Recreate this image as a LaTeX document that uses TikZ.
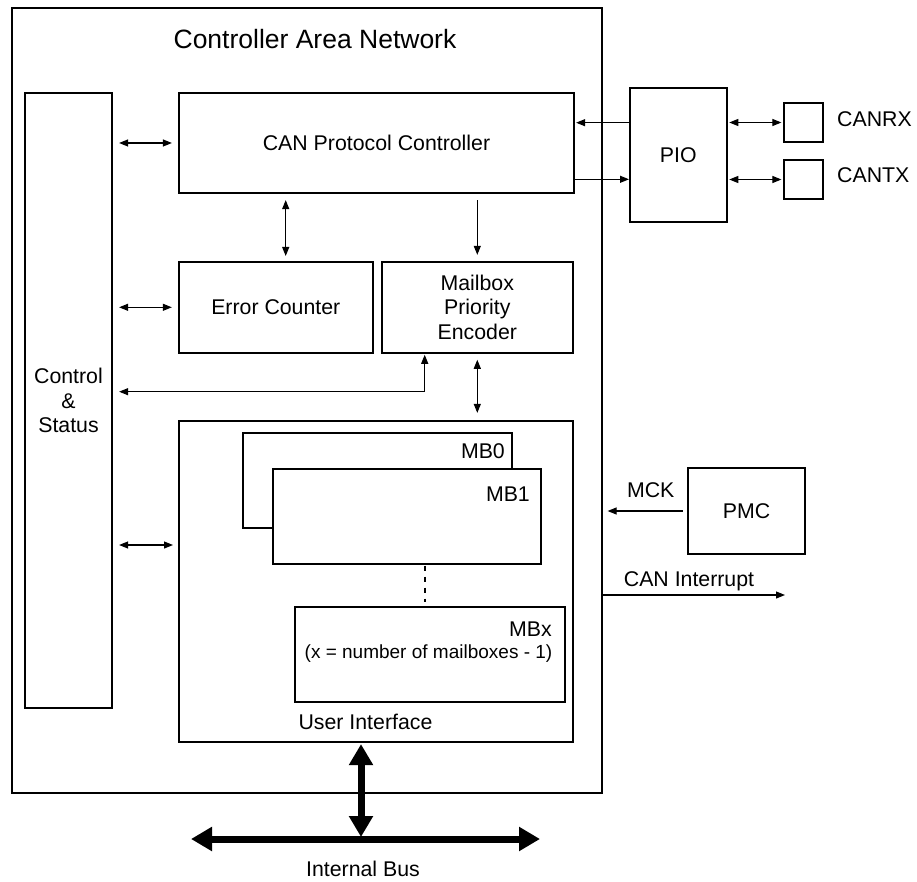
\documentclass[tikz,border=0pt]{standalone}
\usepackage{fontspec}
\setmainfont{Liberation Sans}
\usetikzlibrary{arrows.meta}
\begin{document}
\begin{tikzpicture}[x=1pt,y=-1pt,
  box/.style={draw,line width=2.2pt,inner sep=0pt,align=center,fill=white,
    font=\fontsize{21.3}{24.5}\selectfont},
  lbl/.style={inner sep=0pt,font=\fontsize{21.3}{24.5}\selectfont},
  small/.style={inner sep=0pt,font=\fontsize{19}{22}\selectfont},
  conn/.style={line width=1.1pt,arrows={-Triangle[length=9pt,width=7pt]}},
  biconn/.style={line width=1.1pt,arrows={Triangle[length=9pt,width=7pt]-Triangle[length=9pt,width=7pt]}},
  busarrow/.style={line width=7pt,arrows={Triangle[length=21pt,width=23pt]-Triangle[length=21pt,width=23pt]}},
  dotted link/.style={line width=2pt,dash pattern=on 5pt off 6pt}
]
\useasboundingbox (0,0) rectangle (917,882);

% outer box and title
\node[box,fill=none,minimum width=590pt,minimum height=785pt] (can) at (307,400.5) {};
\node[inner sep=0pt,anchor=base,font=\fontsize{26.5}{30}\selectfont] (title) at (315,49) {Controller Area Network};

% inner blocks
\node[box,minimum width=87pt,minimum height=615pt] (ctrl) at (68.5,400.5) {Control\\\&\\Status};
\node[box,minimum width=395pt,minimum height=100pt] (cpc) at (376.5,143) {CAN Protocol Controller};
\node[box,minimum width=193.7pt,minimum height=90.7pt] (err) at (275.8,307.3) {Error Counter};
\node[box,minimum width=191.3pt,minimum height=90.7pt] (mpe) at (477.3,307.3) {Mailbox\\Priority\\Encoder};
\node[box,minimum width=394pt,minimum height=321pt] (ui) at (376,581.5) {};
\node[lbl,anchor=base] (uil) at (365.5,729) {User Interface};

% mailboxes
\node[box,minimum width=269pt,minimum height=95.3pt] (mb0) at (377.2,480.3) {};
\node[lbl,anchor=base east] (mb0l) at (505,458) {MB0};
\node[box,minimum width=268.3pt,minimum height=95.3pt] (mb1) at (406.8,516.7) {};
\node[lbl,anchor=base east] (mb1l) at (530,501.7) {MB1};
\node[box,minimum width=270pt,minimum height=95pt] (mbx) at (430,654.5) {};
\node[lbl,anchor=base east] (mbxl) at (552,636) {MBx};
\node[small,anchor=base] (mbxn) at (428.5,658) {(x = number of mailboxes - 1)};
\coordinate (d1) at (425,565.5);
\coordinate (d2) at (425,602);
\draw[dotted link] (d1) -- (d2);

% external blocks
\node[box,minimum width=96.7pt,minimum height=133.7pt] (pio) at (678.3,154.8) {PIO};
\node[box,minimum width=39pt,minimum height=39pt] (rx) at (803.5,122.5) {};
\node[box,minimum width=39pt,minimum height=39pt] (tx) at (803.5,179.5) {};
\node[lbl,anchor=base west] (rxl) at (837,126.7) {CANRX};
\node[lbl,anchor=base west] (txl) at (837,183) {CANTX};
\node[box,minimum width=117pt,minimum height=86pt] (pmc) at (746.5,511) {PMC};
\node[lbl,anchor=base] (mck) at (650.7,497) {MCK};
\node[lbl,anchor=base] (irq) at (689,586) {CAN Interrupt};
\node[lbl,anchor=base] (bus) at (363,876) {Internal Bus};

% connectors inside
\coordinate (uiA) at (179,545);
\coordinate (e1) at (285.7,262);
\coordinate (m1) at (424.7,391.7);
\draw[biconn,shorten <=6pt,shorten >=6pt] (ctrl.east |- cpc.west) -- (cpc.west);
\draw[biconn,shorten <=6pt,shorten >=6pt] (ctrl.east |- err.west) -- (err.west);
\draw[biconn,shorten <=6pt,shorten >=6pt] (ctrl.east |- uiA) -- (uiA);
\draw[biconn,shorten <=6pt,shorten >=6pt] (cpc.south -| e1) -- (e1);
\draw[conn,shorten <=6pt,shorten >=6pt] (cpc.south -| mpe.north) -- (mpe.north);
\draw[biconn,shorten <=6pt,shorten >=7pt] (mpe.south) -- (mpe.south |- ui.north);
\draw[biconn,shorten <=6pt,shorten >=1pt] (ctrl.east |- m1) -- (m1) -- (m1 |- mpe.south);

% connectors to PIO
\coordinate (p1) at (630,122.7);
\coordinate (p2) at (630,179.3);
\draw[conn,shorten >=1pt] (p1) -- (cpc.east |- p1);
\draw[conn,shorten >=1pt] (cpc.east |- p2) -- (p2);
\draw[biconn,shorten <=1.5pt,shorten >=1.5pt] (pio.east |- rx.west) -- (rx.west);
\draw[biconn,shorten <=1.5pt,shorten >=1.5pt] (pio.east |- tx.west) -- (tx.west);

% PMC and interrupt
\draw[conn,shorten <=4pt,shorten >=4.5pt] (pmc.west) -- (can.east |- pmc.west);
\coordinate (i1) at (602,595);
\coordinate (i2) at (785,595);
\draw[conn] (i1) -- (i2);

% internal bus
\coordinate (busL) at (191,839);
\coordinate (busR) at (540,839);
\coordinate (busM) at (361,839);
\draw[busarrow] (busL) -- (busR);
\draw[busarrow,shorten <=1pt,shorten >=2pt] (ui.south -| busM) -- (busM);
\end{tikzpicture}
\end{document}
